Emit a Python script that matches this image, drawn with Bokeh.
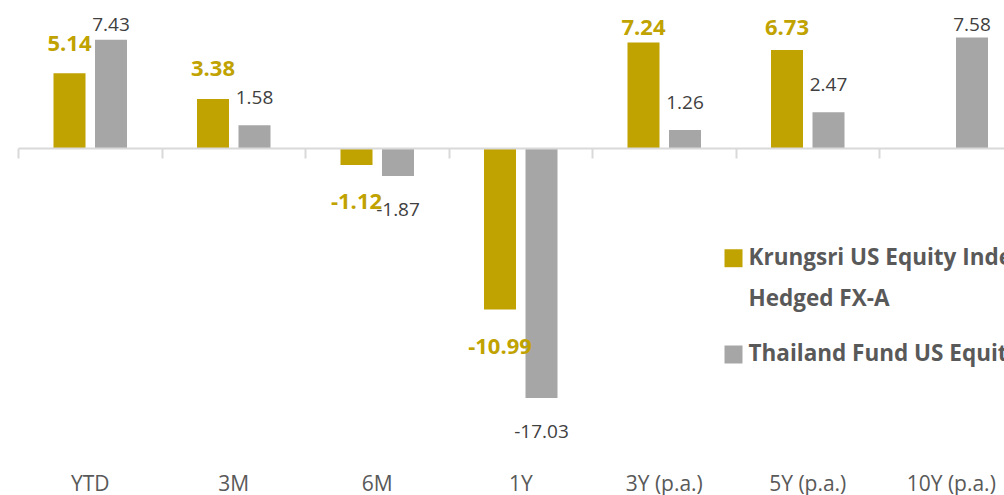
import numpy as np
from bokeh.plotting import figure
from bokeh.models import Range1d, FixedTicker, LinearAxis
from bokeh.core.properties import value
from bokeh.embed import file_html
from bokeh.resources import INLINE

# ---- data ----
categories = ["YTD", "3M", "6M", "1Y", "3Y (p.a.)", "5Y (p.a.)", "10Y (p.a.)"]
krungsri = [5.14, 3.38, -1.12, -10.99, 7.24, 6.73, None]
thailand = [7.43, 1.58, -1.87, -17.03, 1.26, 2.47, 7.58]
legend_krungsri = ["Krungsri US Equity Index", "Hedged FX-A"]
legend_thailand = ["Thailand Fund US Equity"]

# ---- style / layout ----
GOLD = "#C0A200"
GRAY = "#A6A6A6"
ZERO_COL = "#D9D9D9"
FONT = "Open Sans"

W, H = 1004, 495
FH = H              # frame covers the whole canvas
CAT_W = 143.5       # px per category
FIRST_C = 89.75     # px of first category centre
ZERO_PX = 148.0     # px of zero line
S = 14.65           # px per unit

x_start = -FIRST_C / CAT_W
x_end = x_start + W / CAT_W
y_end = ZERO_PX / S
y_start = -(FH - ZERO_PX) / S


def xd(px):
    return x_start + px / CAT_W


def yd(py):
    return (ZERO_PX - py) / S


p = figure(width=W, height=H, x_range=Range1d(x_start, x_end),
           y_range=Range1d(y_start, y_end), output_backend="svg",
           toolbar_location=None, min_border=0,
           x_axis_location=None, y_axis_location=None)
p.background_fill_color = "white"
p.border_fill_color = "white"
p.outline_line_color = None
p.grid.visible = False

idx = np.arange(len(categories))
off = 20.75 / CAT_W
bw = 32 / CAT_W
bounds = np.arange(len(categories) + 1) - 0.5

# zero line: axis fixed at y = 0, ticks at category boundaries
zax = LinearAxis(fixed_location=0, ticker=FixedTicker(ticks=list(bounds)),
                 bounds=(float(bounds[0]), float(bounds[-1])))
zax.axis_line_color = ZERO_COL
zax.axis_line_width = 2
zax.major_tick_line_color = ZERO_COL
zax.major_tick_line_width = 2
zax.major_tick_in = 0
zax.major_tick_out = 10
zax.minor_tick_line_color = None
zax.major_label_text_color = None
zax.major_label_text_font_size = "0px"
p.add_layout(zax, "below")

# category axis near the bottom
cax = LinearAxis(fixed_location=yd(458), ticker=FixedTicker(ticks=list(idx)))
cax.major_label_overrides = {int(i): c for i, c in zip(idx, categories)}
cax.axis_line_color = None
cax.major_tick_line_color = None
cax.minor_tick_line_color = None
cax.major_tick_out = 0
cax.major_tick_in = 0
cax.major_label_standoff = 10
cax.major_label_text_font = FONT
cax.major_label_text_font_size = "21px"
cax.major_label_text_color = "#595959"
p.add_layout(cax, "below")

# bars
kx = [i - off for i, v in zip(idx, krungsri) if v is not None]
kv = [v for v in krungsri if v is not None]
tx = [i + off for i in idx]
tv = thailand

p.vbar(x=kx, top=kv, bottom=0, width=bw, fill_color=GOLD, line_color=None)
p.vbar(x=tx, top=tv, bottom=0, width=bw, fill_color=GRAY, line_color=None)


# value labels (y is where the text box bottom sits)
def label_y(vals, pos_gap, neg_gap, clamp_px):
    out = []
    for v in vals:
        if v >= 0:
            out.append(min(v + pos_gap / S, yd(clamp_px)))
        else:
            out.append(v - neg_gap / S)
    return out


p.text(x=tx, y=label_y(tv, 21 + 6.5, 40 - 6.5, 30.5 - 6.5),
       text=[f"{v:.2f}" for v in tv],
       text_align="center", text_baseline="alphabetic",
       text_font=value(FONT), text_font_size="19px", text_color="#404040")
p.text(x=kx, y=label_y(kv, 23 + 7, 44 - 7, 34 - 7),
       text=[f"{v:.2f}" for v in kv],
       text_align="center", text_baseline="alphabetic",
       text_font=value(FONT), text_font_size="22px", text_font_style="bold",
       text_color=GOLD)

# legend (drawn manually, overflowing the canvas like the reference)
p.rect(x=[xd(733)], y=[yd(257.7)], width=18, height=18, width_units="screen",
       height_units="screen", fill_color=GOLD, line_color=None)
p.rect(x=[xd(733)], y=[yd(354)], width=18, height=18, width_units="screen",
       height_units="screen", fill_color=GRAY, line_color=None)
p.text(x=[xd(748)] * 3, y=[yd(255.5), yd(296.5), yd(351.5)],
       text=legend_krungsri + legend_thailand, text_align="left",
       text_baseline="alphabetic", text_font=value(FONT),
       text_font_size="22.5px", text_font_style="bold", text_color="#595959")

open("out.html", "w").write(file_html(p, INLINE))
